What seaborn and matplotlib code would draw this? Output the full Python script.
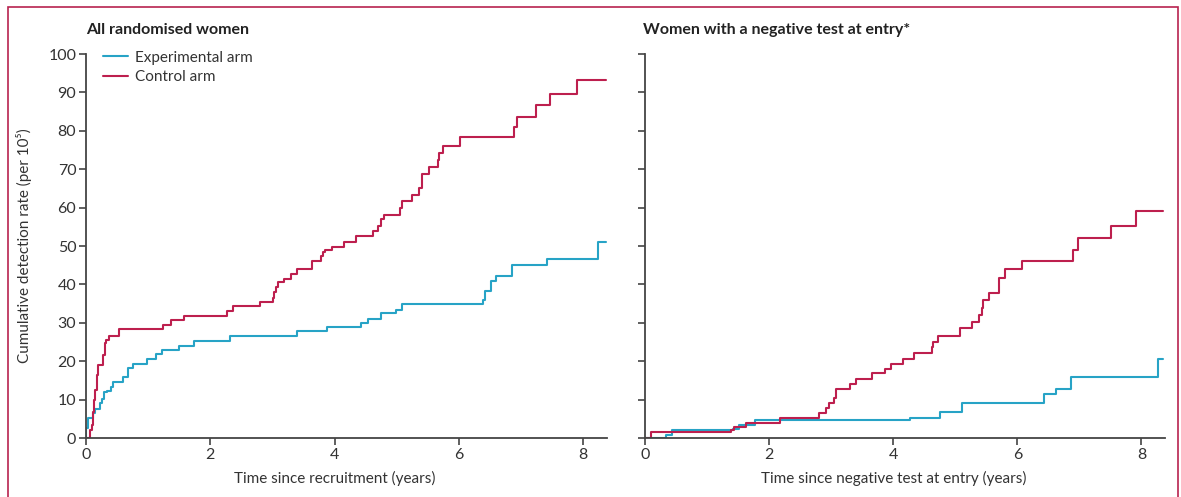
import matplotlib
matplotlib.use("Agg")
import matplotlib.pyplot as plt
from matplotlib.patches import Rectangle
import seaborn as sns
import pandas as pd

# ---------------- data (step-post: time at which rate jumps to value) ----------------
all_ctrl_t = [0, 0.06, 0.09, 0.11, 0.13, 0.15, 0.17, 0.20, 0.27, 0.30, 0.32, 0.37, 0.53,
              1.24, 1.37, 1.58, 2.26, 2.36, 2.80, 3.01, 3.03, 3.06, 3.09, 3.18, 3.30, 3.39,
              3.64, 3.78, 3.81, 3.85, 3.96, 4.15, 4.35, 4.61, 4.70, 4.74, 4.80, 5.05, 5.09,
              5.25, 5.35, 5.40, 5.51, 5.66, 5.68, 5.74, 6.02, 6.88, 6.93, 7.23, 7.47, 7.90, 8.36]
all_ctrl_v = [0, 2.2, 3.4, 6.9, 9.9, 12.5, 16.4, 18.9, 21.6, 24.7, 25.5, 26.6, 28.4,
              29.5, 30.6, 31.9, 33.2, 34.4, 35.3, 36.5, 38.0, 39.2, 40.5, 41.4, 42.6, 43.9,
              46.2, 47.4, 48.5, 49.0, 49.8, 51.1, 52.6, 54.0, 55.2, 57.0, 58.2, 60.0, 61.6,
              63.4, 65.2, 68.7, 70.5, 72.4, 74.3, 76.1, 78.3, 80.9, 83.6, 86.8, 89.7, 93.3, 93.3]

all_exp_t = [0, 0.005, 0.03, 0.11, 0.15, 0.23, 0.25, 0.29, 0.34, 0.40, 0.43, 0.60, 0.67, 0.75,
             0.975, 1.12, 1.23, 1.50, 1.74, 2.32, 3.39, 3.88, 4.42, 4.53, 4.74, 4.99, 5.08,
             6.38, 6.41, 6.51, 6.60, 6.85, 7.42, 8.23, 8.36]
all_exp_v = [0, 2.6, 5.2, 6.5, 7.6, 9.2, 10.1, 11.9, 12.3, 13.4, 14.7, 15.9, 18.1, 19.4,
             20.6, 21.9, 22.9, 24.0, 25.3, 26.6, 27.9, 29.0, 29.9, 31.1, 32.6, 33.3, 34.9,
             35.9, 38.4, 40.9, 42.3, 45.0, 46.6, 51.0, 51.0]

neg_ctrl_t = [0, 0.10, 1.38, 1.43, 1.63, 2.17, 2.81, 2.91, 2.96, 3.05, 3.08, 3.31, 3.40, 3.66,
              3.87, 3.97, 4.15, 4.34, 4.62, 4.64, 4.72, 5.07, 5.27, 5.38, 5.43, 5.45, 5.55,
              5.70, 5.80, 6.08, 6.90, 6.97, 7.51, 7.91, 8.34]
neg_ctrl_v = [0, 1.5, 2.0, 2.8, 4.0, 5.3, 6.5, 7.8, 9.1, 10.3, 12.7, 14.1, 15.3, 16.8,
              18.0, 19.4, 20.7, 22.2, 23.6, 25.1, 26.6, 28.6, 30.3, 32.0, 33.9, 35.9, 37.8,
              41.7, 43.9, 46.2, 49.0, 52.2, 55.3, 59.1, 59.1]

neg_exp_t = [0, 0.34, 0.44, 1.42, 1.52, 1.78, 4.27, 4.76, 5.11, 6.43, 6.62, 6.87, 8.26, 8.34]
neg_exp_v = [0, 0.7, 2.1, 2.4, 3.4, 4.7, 5.3, 6.9, 9.0, 11.5, 12.8, 15.8, 20.5, 20.5]

arms = ["Experimental arm", "Control arm"]
panel_titles = ["All randomised women", "Women with a negative test at entry*"]
x_labels = ["Time since recruitment (years)", "Time since negative test at entry (years)"]
y_label = "Cumulative detection rate (per 10\u2075)"
x_ticks = [0, 2, 4, 6, 8]
y_ticks = list(range(0, 101, 10))

RED = "#bd1f4e"
BLUE = "#27a3c6"
TXT = "#333333"
palette = {arms[0]: BLUE, arms[1]: RED}


def make_df(exp_t, exp_v, ctl_t, ctl_v):
    d1 = pd.DataFrame({"time": exp_t, "rate": exp_v, "arm": arms[0]})
    d2 = pd.DataFrame({"time": ctl_t, "rate": ctl_v, "arm": arms[1]})
    return pd.concat([d1, d2], ignore_index=True)


dfs = [make_df(all_exp_t, all_exp_v, all_ctrl_t, all_ctrl_v),
       make_df(neg_exp_t, neg_exp_v, neg_ctrl_t, neg_ctrl_v)]

# ---------------- styling ----------------
sns.set_style("ticks")
plt.rcParams["font.family"] = ["Lato", "DejaVu Sans"]
plt.rcParams["text.color"] = TXT
plt.rcParams["axes.labelcolor"] = TXT
plt.rcParams["xtick.color"] = "#444444"
plt.rcParams["ytick.color"] = "#444444"

FS = 11

W, H = 1181, 497
fig = plt.figure(figsize=(W / 100, H / 100), dpi=100)

axes_px = [(86, 607), (645, 1165)]
top_px, bot_px = 54, 438
axs = []
for (l, r) in axes_px:
    ax = fig.add_axes([l / W, 1 - bot_px / H, (r - l) / W, (bot_px - top_px) / H])
    axs.append(ax)

for i, ax in enumerate(axs):
    sns.lineplot(data=dfs[i], x="time", y="rate", hue="arm", hue_order=arms,
                 palette=palette, drawstyle="steps-post", estimator=None,
                 linewidth=1.5, legend=False, ax=ax)
    ax.set_xlim(0, 8.38)
    ax.set_ylim(0, 100)
    ax.set_xticks(x_ticks)
    ax.set_yticks(y_ticks)
    ax.tick_params(axis="both", direction="out", length=5, width=1.2,
                   labelsize=11.5, labelcolor=TXT, pad=2)
    for s in ["top", "right"]:
        ax.spines[s].set_visible(False)
    for s in ["left", "bottom"]:
        ax.spines[s].set_color("#444444")
        ax.spines[s].set_linewidth(1.3)
    ax.set_xlabel(x_labels[i], fontsize=FS, color=TXT)
    ax.xaxis.set_label_coords(0.478, -0.085)
    ax.set_ylabel("")
    ax.text(-0.003 if i == 1 else 0.0, 1.062, panel_titles[i], transform=ax.transAxes,
            fontsize=11.5, fontweight="bold", color="#222222", ha="left", va="center")

axs[1].tick_params(axis="y", labelleft=False)
axs[0].set_ylabel(y_label, fontsize=FS, color=TXT)
axs[0].yaxis.set_label_coords(-0.104, 0.5)

lines = axs[0].get_lines()
axs[0].legend(lines[:2], arms, loc="upper left", bbox_to_anchor=(0.033, 1.009),
              frameon=False, fontsize=FS, handlelength=1.65, handletextpad=0.42,
              labelspacing=0.38, labelcolor=TXT, borderaxespad=0, borderpad=0)

fig.add_artist(Rectangle((8 / W, -0.05), (1178 - 8) / W, 1.05 - 7 / H,
                         transform=fig.transFigure, fill=False, edgecolor="#b8234f",
                         linewidth=1.2))

fig.savefig("out.png", dpi=100)
